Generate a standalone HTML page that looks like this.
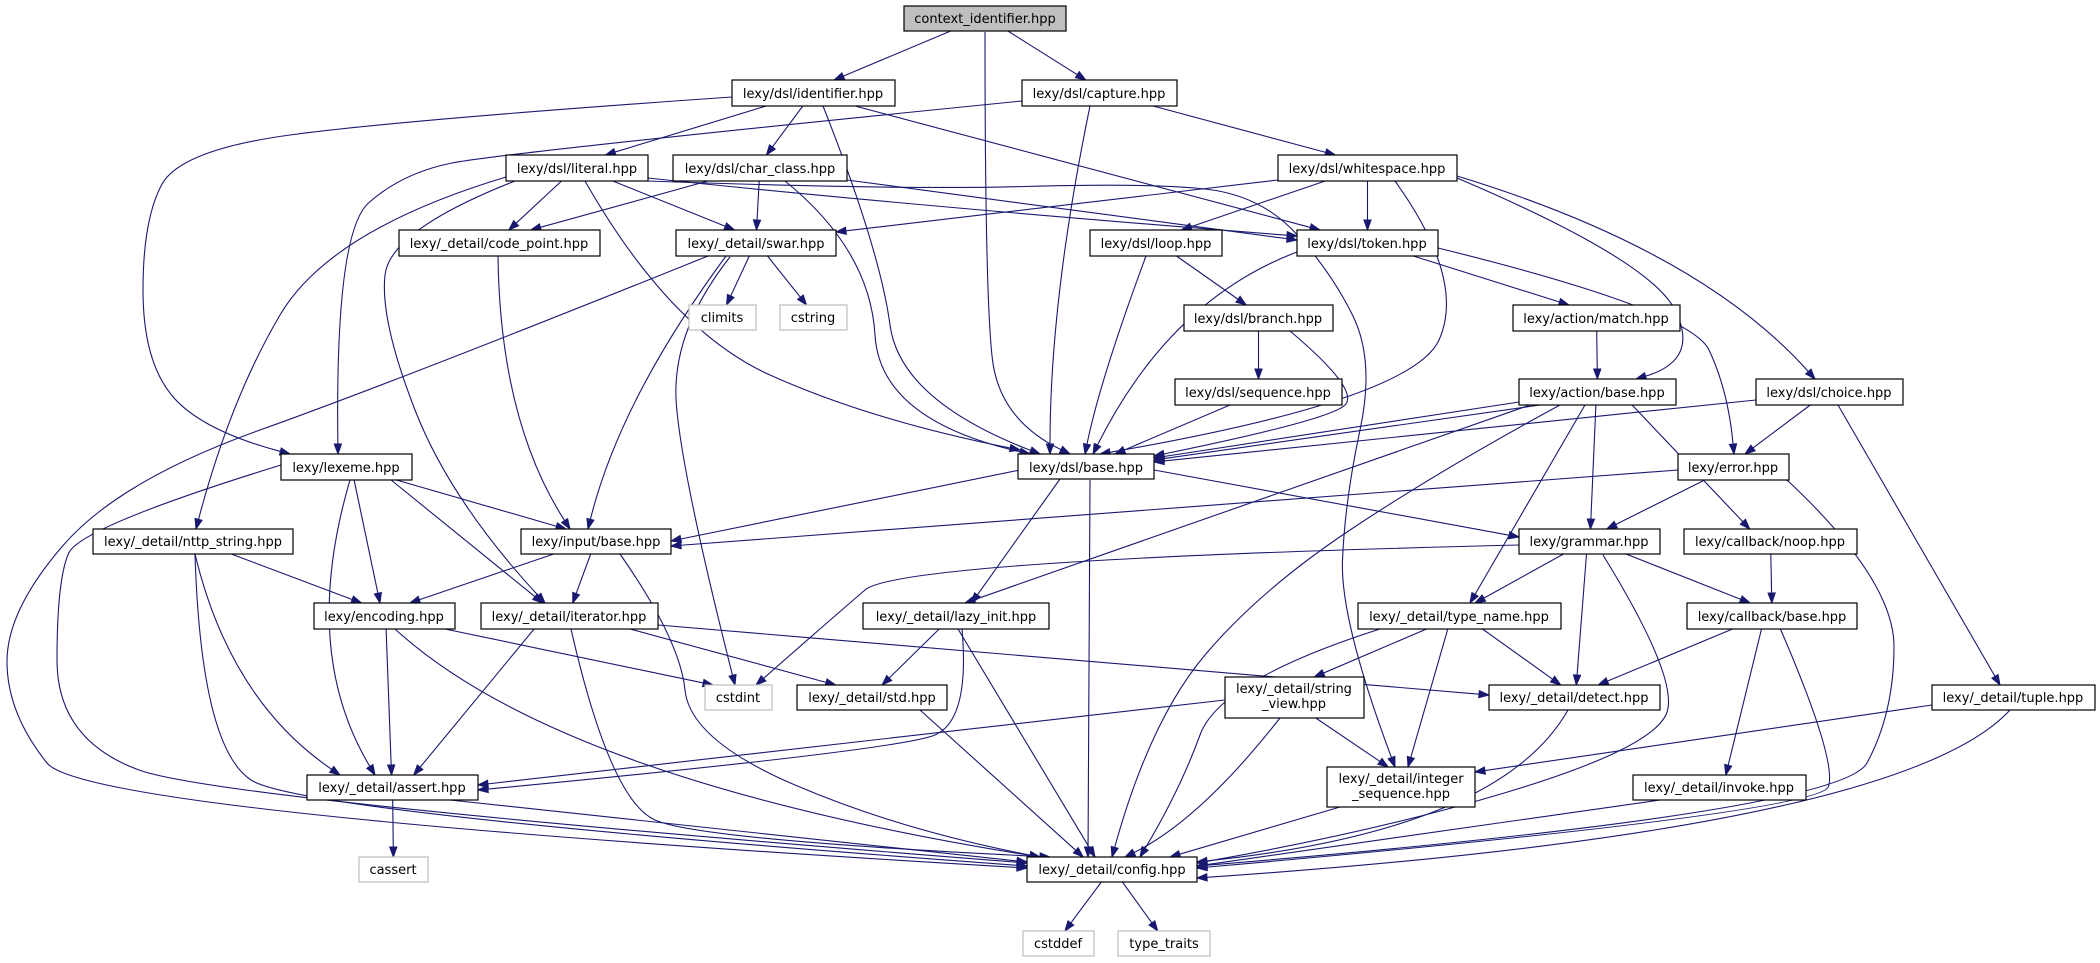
<!DOCTYPE html>
<html><head><meta charset="utf-8"><style>
html,body{margin:0;padding:0;background:#fff;}
svg{display:block;}
text{font-family:"DejaVu Sans","Liberation Sans",sans-serif;font-size:13px;fill:#000;}
rect.n{fill:#fff;stroke:#000;stroke-width:1.2;}
rect.g{fill:#fff;stroke:#bfbfbf;stroke-width:1.2;}
rect.r{fill:#bfbfbf;stroke:#000;stroke-width:1.2;}
</style></head><body>
<svg id="s" width="2100" height="963" viewBox="0 0 2100 963" xmlns="http://www.w3.org/2000/svg">
<g id="edges"></g>
<g id="nodes">
<rect id="ctx" class="r" x="904" y="6" width="162" height="25"/><text x="985" y="23" text-anchor="middle">context_identifier.hpp</text>
<rect id="ident" class="n" x="732" y="80" width="163" height="26"/><text x="813" y="98" text-anchor="middle">lexy/dsl/identifier.hpp</text>
<rect id="capt" class="n" x="1022" y="80" width="155" height="26"/><text x="1099" y="98" text-anchor="middle">lexy/dsl/capture.hpp</text>
<rect id="lit" class="n" x="506" y="155" width="142" height="26"/><text x="577" y="173" text-anchor="middle">lexy/dsl/literal.hpp</text>
<rect id="cc" class="n" x="673" y="155" width="174" height="26"/><text x="760" y="173" text-anchor="middle">lexy/dsl/char_class.hpp</text>
<rect id="ws" class="n" x="1278" y="155" width="179" height="26"/><text x="1367" y="173" text-anchor="middle">lexy/dsl/whitespace.hpp</text>
<rect id="cp" class="n" x="399" y="230" width="201" height="26"/><text x="499" y="248" text-anchor="middle">lexy/_detail/code_point.hpp</text>
<rect id="swar" class="n" x="676" y="230" width="160" height="26"/><text x="756" y="248" text-anchor="middle">lexy/_detail/swar.hpp</text>
<rect id="loop" class="n" x="1090" y="230" width="132" height="26"/><text x="1156" y="248" text-anchor="middle">lexy/dsl/loop.hpp</text>
<rect id="tok" class="n" x="1297" y="230" width="141" height="26"/><text x="1367" y="248" text-anchor="middle">lexy/dsl/token.hpp</text>
<rect id="climits" class="g" x="689" y="305" width="67" height="25"/><text x="722" y="322" text-anchor="middle">climits</text>
<rect id="cstring" class="g" x="780" y="305" width="67" height="25"/><text x="813" y="322" text-anchor="middle">cstring</text>
<rect id="branch" class="n" x="1184" y="305" width="149" height="26"/><text x="1258" y="323" text-anchor="middle">lexy/dsl/branch.hpp</text>
<rect id="match" class="n" x="1513" y="305" width="167" height="26"/><text x="1596" y="323" text-anchor="middle">lexy/action/match.hpp</text>
<rect id="seq" class="n" x="1175" y="379" width="167" height="26"/><text x="1258" y="397" text-anchor="middle">lexy/dsl/sequence.hpp</text>
<rect id="abase" class="n" x="1519" y="379" width="157" height="26"/><text x="1597" y="397" text-anchor="middle">lexy/action/base.hpp</text>
<rect id="choice" class="n" x="1756" y="379" width="147" height="26"/><text x="1829" y="397" text-anchor="middle">lexy/dsl/choice.hpp</text>
<rect id="lexeme" class="n" x="281" y="454" width="131" height="26"/><text x="346" y="472" text-anchor="middle">lexy/lexeme.hpp</text>
<rect id="dbase" class="n" x="1018" y="454" width="136" height="25"/><text x="1086" y="472" text-anchor="middle">lexy/dsl/base.hpp</text>
<rect id="err" class="n" x="1678" y="454" width="111" height="26"/><text x="1733" y="472" text-anchor="middle">lexy/error.hpp</text>
<rect id="nttp" class="n" x="93" y="529" width="200" height="25"/><text x="193" y="546" text-anchor="middle">lexy/_detail/nttp_string.hpp</text>
<rect id="ibase" class="n" x="521" y="529" width="150" height="25"/><text x="596" y="546" text-anchor="middle">lexy/input/base.hpp</text>
<rect id="gram" class="n" x="1519" y="529" width="141" height="25"/><text x="1589" y="546" text-anchor="middle">lexy/grammar.hpp</text>
<rect id="noop" class="n" x="1684" y="529" width="173" height="25"/><text x="1770" y="546" text-anchor="middle">lexy/callback/noop.hpp</text>
<rect id="enc" class="n" x="314" y="603" width="141" height="26"/><text x="384" y="621" text-anchor="middle">lexy/encoding.hpp</text>
<rect id="iter" class="n" x="481" y="603" width="177" height="26"/><text x="569" y="621" text-anchor="middle">lexy/_detail/iterator.hpp</text>
<rect id="lazy" class="n" x="863" y="603" width="186" height="26"/><text x="956" y="621" text-anchor="middle">lexy/_detail/lazy_init.hpp</text>
<rect id="tn" class="n" x="1358" y="603" width="203" height="26"/><text x="1459" y="621" text-anchor="middle">lexy/_detail/type_name.hpp</text>
<rect id="cbase" class="n" x="1687" y="603" width="170" height="26"/><text x="1772" y="621" text-anchor="middle">lexy/callback/base.hpp</text>
<rect id="cstdint" class="g" x="705" y="685" width="67" height="25"/><text x="738" y="702" text-anchor="middle">cstdint</text>
<rect id="std" class="n" x="797" y="685" width="150" height="25"/><text x="872" y="702" text-anchor="middle">lexy/_detail/std.hpp</text>
<rect id="sv" class="n" x="1225" y="677" width="139" height="41"/><text x="1294" y="693" text-anchor="middle">lexy/_detail/string</text><text x="1294" y="708" text-anchor="middle">_view.hpp</text>
<rect id="det" class="n" x="1489" y="685" width="171" height="25"/><text x="1574" y="702" text-anchor="middle">lexy/_detail/detect.hpp</text>
<rect id="tup" class="n" x="1932" y="685" width="163" height="25"/><text x="2013" y="702" text-anchor="middle">lexy/_detail/tuple.hpp</text>
<rect id="asrt" class="n" x="307" y="775" width="171" height="25"/><text x="392" y="792" text-anchor="middle">lexy/_detail/assert.hpp</text>
<rect id="iseq" class="n" x="1327" y="767" width="148" height="40"/><text x="1401" y="783" text-anchor="middle">lexy/_detail/integer</text><text x="1401" y="798" text-anchor="middle">_sequence.hpp</text>
<rect id="inv" class="n" x="1633" y="775" width="173" height="25"/><text x="1719" y="792" text-anchor="middle">lexy/_detail/invoke.hpp</text>
<rect id="cassert" class="g" x="359" y="857" width="69" height="25"/><text x="393" y="874" text-anchor="middle">cassert</text>
<rect id="cfg" class="n" x="1027" y="857" width="170" height="25"/><text x="1112" y="874" text-anchor="middle">lexy/_detail/config.hpp</text>
<rect id="cstddef" class="g" x="1023" y="931" width="71" height="25"/><text x="1058" y="948" text-anchor="middle">cstddef</text>
<rect id="tt" class="g" x="1118" y="931" width="92" height="25"/><text x="1164" y="948" text-anchor="middle">type_traits</text>
</g>
</svg>
<script>
(function(){
var NS="http://www.w3.org/2000/svg";
function B(id){var r=document.getElementById(id);return {x:+r.getAttribute('x'),y:+r.getAttribute('y'),w:+r.getAttribute('width'),h:+r.getAttribute('height')};}
function cl(v,a,b){return Math.max(a,Math.min(b,v));}
var E=[
['ctx','ident'],['ctx','capt'],['ctx','dbase',[[985,32],[985,300],[1000,420]],[1070,454]],
['ident','lexeme',[[732,97],[400,120],[180,150],[143,220],[143,360],[200,430]],[290,454]],
['ident','lit'],['ident','cc'],['ident','dbase',[[823,106],[880,250],[900,400]],[1040,454]],['ident','tok',[[855,106]],[1320,230]],
['capt','lexeme',[[1022,101],[502,153],[402,173],[335,233]],[338,454]],['capt','dbase',[[1090,106],[1050,300]],[1050,454]],['capt','ws'],
['lit','cp'],['lit','swar'],['lit','tok',[[648,178],[900,205]],[1297,236]],
['lit','nttp',[[506,177],[330,230],[230,400]],[196,529]],
['lit','iter',[[515,181],[390,230],[380,320],[450,500]],[545,603]],
['lit','iseq',[[648,181],[900,190],[1150,183],[1260,195],[1330,270],[1375,360],[1345,500],[1340,620]],[1395,767]],
['lit','dbase',[[585,181],[670,330],[870,420]],[1020,450]],
['cc','cp'],['cc','swar'],['cc','dbase',[[785,181],[870,250],[880,420]],[1030,454]],['cc','tok',[[847,180]],[1297,240]],
['ws','swar',[[1278,180]],[836,232]],['ws','loop'],['ws','tok'],['ws','dbase',[[1395,181],[1466,280],[1412,400]],[1100,454]],
['ws','abase',[[1457,178],[1650,260],[1700,360]],[1636,379]],['ws','choice',[[1457,176],[1700,250]],[1815,379]],
['swar','climits'],['swar','cstring'],['swar','ibase',[[726,256],[620,400]],[588,529]],['swar','cstdint',[[730,257],[670,333],[683,480]],[735,685]],
['swar','cfg',[[708,256],[400,380],[120,480],[7,610],[7,713],[87,813]],[1027,868]],
['cp','ibase',[[498,256],[500,420]],[570,529]],
['loop','dbase',[[1146,256],[1100,380]],[1085,454]],['loop','branch'],
['tok','dbase',[[1297,252],[1170,300]],[1093,454]],['tok','match'],['tok','err',[[1438,248],[1690,310],[1728,390]],[1734,454]],
['branch','seq'],['branch','dbase',[[1290,331],[1360,390],[1330,420]],[1154,456]],
['seq','dbase',[[1230,405]],[1115,454]],['match','abase'],
['abase','dbase',[[1519,402]],[1154,458]],['abase','dbase',[[1540,405]],[1154,460]],['abase','lazy',[[1530,405],[1200,520]],[965,603]],
['abase','cfg',[[1560,405],[1440,470],[1260,590],[1150,720]],[1112,857]],['abase','tn',[[1585,405]],[1470,603]],['abase','gram'],['abase','noop'],
['choice','dbase',[[1756,400]],[1154,462]],['choice','err'],['choice','tup',[[1838,405]],[2000,685]],
['lexeme','ibase'],['lexeme','enc'],['lexeme','iter'],['lexeme','asrt',[[350,480],[300,650]],[375,775]],
['lexeme','cfg',[[281,465],[80,527],[57,580],[57,740],[221,800]],[1027,863]],
['dbase','ibase',[[1020,470]],[671,541]],['dbase','lazy'],['dbase','cfg',[[1090,480]],[1088,857]],['dbase','gram',[[1154,470]],[1519,537]],
['err','ibase',[[1678,470]],[671,546]],['err','gram'],['err','cfg',[[1787,480],[1894,580],[1894,713],[1840,813]],[1197,866]],
['nttp','enc'],['nttp','asrt',[[195,554],[230,700]],[340,775]],['nttp','cfg',[[195,554],[201,747],[301,813]],[1027,866]],
['ibase','enc'],['ibase','iter'],['ibase','cfg',[[620,554],[680,640],[690,740],[900,830]],[1040,857]],
['gram','cstdint',[[1519,545],[900,560],[830,620]],[756,685]],['gram','tn'],['gram','det'],['gram','cbase'],
['gram','cfg',[[1603,555],[1680,680],[1653,747],[1385,830]],[1197,863]],
['noop','cbase'],
['enc','asrt'],['enc','cfg',[[395,629],[560,780]],[1040,857]],['enc','cstdint'],
['iter','asrt'],['iter','cfg',[[571,629],[610,800],[700,840]],[1050,857]],['iter','std'],['iter','det',[[658,625]],[1489,695]],
['lazy','std'],['lazy','asrt',[[962,629],[970,720],[900,750]],[478,790]],['lazy','cfg',[[958,629]],[1095,857]],
['tn','sv'],['tn','det'],['tn','iseq'],['tn','cfg',[[1380,629],[1220,680],[1180,790]],[1140,857]],
['cbase','det'],['cbase','inv'],['cbase','cfg',[[1780,628],[1837,760],[1820,813]],[1197,868]],
['std','cfg'],['sv','asrt',[[1225,700]],[478,785]],['sv','iseq'],['sv','cfg',[[1280,718],[1200,820]],[1125,857]],
['det','cfg',[[1568,710],[1500,830]],[1197,862]],['tup','iseq',[[1932,705]],[1475,772]],['tup','cfg',[[2010,710],[1900,830]],[1197,878]],
['asrt','cassert'],['asrt','cfg',[[450,800]],[1027,862]],['iseq','cfg',[[1340,807]],[1170,857]],['inv','cfg',[[1660,800]],[1197,866]],
['cfg','cstddef'],['cfg','tt']
];
var g=document.getElementById('edges');
function mk(tag,attrs){var el=document.createElementNS(NS,tag);for(var k in attrs)el.setAttribute(k,attrs[k]);g.appendChild(el);}
E.forEach(function(e){
 try{
 var s=B(e[0]),d=B(e[1]),pts;
 var scx=s.x+s.w/2,dcx=d.x+d.w/2;
 var dxd=cl(dcx+(scx-dcx)*0.12,d.x+8,d.x+d.w-8);
 if(e[2]){pts=e[2].slice();pts.push(e[3]||[dxd,d.y]);}
 else{
  var sx=cl(scx+(dcx-scx)*0.2,s.x+10,s.x+s.w-10);
  pts=[[sx,s.y+s.h],[dxd,d.y]];
 }
 var n=pts.length,last=pts[n-1],prev=pts[n-2];
 var vx=last[0]-prev[0],vy=last[1]-prev[1],L=Math.sqrt(vx*vx+vy*vy)||1;vx/=L;vy/=L;
 var al=10,aw=3.6;
 var ex=last[0]-vx*al,ey=last[1]-vy*al;
 var P=pts.slice(0,n-1);P.push([ex,ey]);
 var dstr='M'+P[0][0]+','+P[0][1];
 if(P.length==2){dstr+=' L'+ex+','+ey;}
 else{
  for(var i=1;i<P.length-1;i++){var mx=(P[i][0]+P[i+1][0])/2,my=(P[i][1]+P[i+1][1])/2;
   if(i==P.length-2){mx=P[i+1][0];my=P[i+1][1];}
   dstr+=' Q'+P[i][0]+','+P[i][1]+' '+mx+','+my;}
 }
 mk('path',{d:dstr,fill:'none',stroke:'#191970','stroke-width':'1.1'});
 var px=-vy,py=vx;
 mk('polygon',{points:last[0]+','+last[1]+' '+(ex+px*aw)+','+(ey+py*aw)+' '+(ex-px*aw)+','+(ey-py*aw),fill:'#191970',stroke:'#191970'});
 }catch(err){}
});
})();
</script>
</body></html>
